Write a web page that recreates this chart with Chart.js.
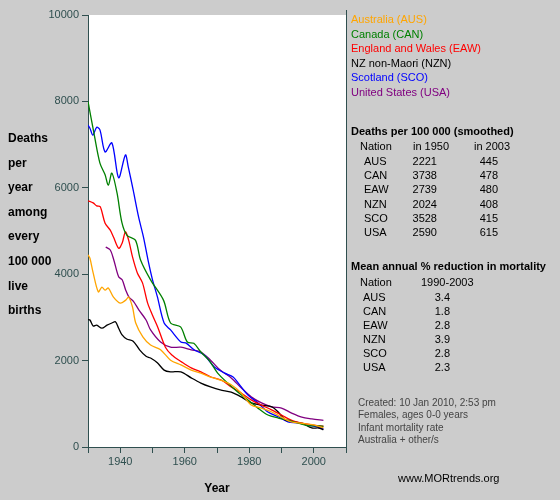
<!DOCTYPE html>
<html><head><meta charset="utf-8">
<script src="https://cdn.jsdelivr.net/npm/chart.js@4"></script>
<style>
body{margin:0;background:#cccccc;font-family:"Liberation Sans",Arial,sans-serif;}
#wrap{position:relative;width:560px;height:500px;}
canvas{position:absolute;left:0;top:0;}
.t{position:absolute;font-size:11px;white-space:nowrap;line-height:14px;}
.b{font-weight:bold;}
.r{text-align:right;}
.f{color:#444;font-size:10px;}
</style></head><body>
<div id="wrap"><canvas id="c" width="560" height="500"></canvas><div id="txt"></div></div>
<script>
const nations = ['AUS', 'CAN', 'EAW', 'NZN', 'SCO', 'USA'];
const legendNames = ['Australia (AUS)', 'Canada (CAN)', 'England and Wales (EAW)', 'NZ non-Maori (NZN)', 'Scotland (SCO)', 'United States (USA)'];
const colors = ['#ffa500', '#008000', '#ff0000', '#000000', '#0000ff', '#800080'];
const in1950 = ['2221', '3738', '2739', '2024', '3528', '2590'];
const in2003 = ['445', '478', '480', '408', '415', '615'];
const reduction = ['3.4', '1.8', '2.8', '3.9', '2.8', '2.3'];

const ausYears = [1930, 1930.6, 1931.6, 1933.2, 1934.3, 1935.3, 1936.3, 1937.9, 1940, 1941.7, 1942.6, 1943.8, 1944.8, 1947, 1949.4, 1952.5, 1955.6, 1958.8, 1962, 1965, 1968, 1971, 1974.4, 1977.5, 1980.6, 1983.8, 1987, 1990, 1993, 1996.3, 2000, 2003];
const ausVals = [4450, 4370, 4030, 3590, 3700, 3630, 3680, 3470, 3330, 3400, 3470, 3240, 2870, 2550, 2360, 2250, 2010, 1900, 1780, 1710, 1620, 1550, 1440, 1250, 970, 900, 810, 690, 580, 550, 510, 445];
const canYears = [1930, 1932, 1933.7, 1935.3, 1936.3, 1937.4, 1939, 1940.5, 1942.1, 1944.7, 1946.3, 1949.4, 1953.4, 1955.6, 1958.7, 1960.8, 1962.8, 1965, 1967.5, 1970.2, 1973.3, 1976.5, 1979.6, 1982.7, 1985.8, 1989, 1992, 1995.2, 1998.3, 2001.5, 2003];
const canVals = [8000, 7200, 6570, 6300, 6060, 6340, 5880, 5200, 4900, 4790, 4330, 3870, 3400, 2870, 2780, 2430, 2400, 2200, 2010, 1710, 1480, 1270, 1090, 900, 740, 670, 620, 550, 490, 490, 478];
const eawYears = [1930, 1931.6, 1932.7, 1933.8, 1935.3, 1936.9, 1937.9, 1939.5, 1940.6, 1941.6, 1942.6, 1943.8, 1945.3, 1946.9, 1948.5, 1950, 1951.6, 1954, 1956, 1959, 1962, 1965, 1968.1, 1971.3, 1974.4, 1977.5, 1980.6, 1983.8, 1986.9, 1990, 1993, 1996.3, 1999.4, 2003];
const eawVals = [5700, 5650, 5580, 5560, 5180, 5020, 4860, 4600, 4720, 4980, 4790, 4400, 4030, 3800, 3330, 3050, 2780, 2310, 2130, 1970, 1830, 1740, 1620, 1550, 1390, 1250, 1090, 970, 860, 740, 620, 550, 510, 480];
const nznYears = [1930, 1930.6, 1931.6, 1932.7, 1934.3, 1935.9, 1937.4, 1938.5, 1939.5, 1940.5, 1942, 1944, 1946, 1948, 1949.4, 1951.5, 1953.6, 1955.6, 1958.8, 1962, 1965, 1968, 1971, 1974.4, 1977.5, 1980.6, 1983.8, 1987, 1989, 1991.2, 1993, 1996.3, 1999.4, 2001.5, 2003];
const nznVals = [2950, 2940, 2800, 2820, 2750, 2820, 2870, 2900, 2750, 2600, 2500, 2450, 2250, 2100, 2060, 1950, 1780, 1740, 1740, 1600, 1480, 1390, 1320, 1270, 1160, 1020, 970, 930, 810, 620, 600, 550, 440, 440, 400];
const scoYears = [1930, 1930.6, 1931.5, 1932.7, 1933.7, 1935.3, 1937.4, 1939.5, 1941.6, 1942.5, 1944, 1945.7, 1947.2, 1948.8, 1950, 1951.5, 1953.6, 1955.6, 1958.8, 1960.3, 1962.9, 1966, 1969.2, 1972.4, 1975, 1976.6, 1979.6, 1982.7, 1985.8, 1989, 1992, 1995, 1998.3, 2001.5, 2003];
const scoVals = [7450, 7380, 7220, 7400, 7340, 6830, 7040, 6230, 6760, 6480, 5950, 5320, 4860, 4260, 3870, 3480, 2870, 2710, 2430, 2410, 2250, 2130, 1850, 1710, 1620, 1480, 1200, 1020, 810, 700, 580, 560, 510, 460, 415];
const usaYears = [1935.5, 1936.9, 1938, 1939.5, 1940.6, 1941.7, 1942.7, 1944.2, 1945.8, 1948, 1949.4, 1952.5, 1955.6, 1958.8, 1962, 1965, 1968, 1971, 1974.4, 1977.5, 1980.6, 1983.8, 1987, 1990, 1993, 1996.3, 1999.4, 2003];
const usaVals = [4630, 4560, 4330, 3940, 3870, 3630, 3470, 3360, 3170, 2940, 2710, 2430, 2310, 2310, 2250, 2200, 2010, 1780, 1600, 1370, 1160, 1020, 930, 900, 790, 690, 650, 615];
const xTicks = [1930, 1940, 1950, 1960, 1970, 1980, 1990, 2000, 2010];
const xLabels = [1940, 1960, 1980, 2000];

const seriesYears = [ausYears, canYears, eawYears, nznYears, scoYears, usaYears];
const seriesVals = [ausVals, canVals, eawVals, nznVals, scoVals, usaVals];
const axisColor = '#2f4f4f';

const datasets = nations.map((n, i) => ({
    label: n,
    data: seriesYears[i].map((y, j) => ({ x: y, y: seriesVals[i][j] })),
    borderColor: colors[i],
    borderWidth: 1.3,
    pointRadius: 0,
    tension: 0.3,
    fill: false
}));

const plotBg = {
    id: 'plotBg',
    beforeDraw(chart) {
        const { ctx, chartArea: a } = chart;
        ctx.save();
        ctx.fillStyle = '#ffffff';
        ctx.fillRect(a.left, a.top, a.right - a.left, a.bottom - a.top);
        ctx.strokeStyle = axisColor;
        ctx.lineWidth = 1;
        ctx.beginPath();
        ctx.moveTo(a.right + 0.5, a.top - 5);
        ctx.lineTo(a.right + 0.5, a.bottom + 5);
        ctx.stroke();
        ctx.restore();
    }
};

new Chart(document.getElementById('c'), {
    type: 'line',
    data: { datasets },
    options: {
        responsive: false,
        animation: false,
        layout: { padding: { left: 30, right: 214, top: 15, bottom: 0 } },
        plugins: { legend: { display: false }, tooltip: { enabled: false } },
        scales: {
            x: {
                type: 'linear', min: 1930, max: 2010,
                afterBuildTicks: s => { s.ticks = xTicks.map(v => ({ value: v })); },
                afterFit: s => { s.height = 53; },
                grid: { display: true, drawOnChartArea: false, drawTicks: true, tickLength: 6, tickColor: axisColor },
                border: { color: axisColor, width: 1 },
                ticks: { color: axisColor, font: { family: 'Liberation Sans', size: 11 }, maxRotation: 0, padding: 2,
                    callback: v => xLabels.includes(v) ? String(v) : '' },
                title: { display: true, text: 'Year', color: '#000', font: { family: 'Liberation Sans', size: 12, weight: 'bold' }, padding: { top: 4 } }
            },
            y: {
                min: 0, max: 10000,
                afterFit: s => { s.width = 58; },
                ticks: { stepSize: 2000, color: axisColor, font: { family: 'Liberation Sans', size: 11 }, callback: v => String(v) },
                grid: { display: true, drawOnChartArea: false, drawTicks: true, tickLength: 6, tickColor: axisColor },
                border: { color: axisColor, width: 1 }
            }
        }
    },
    plugins: [plotBg]
});

// side texts
const txt = document.getElementById('txt');
function put(html, x, y, cls, style) {
    const d = document.createElement('div');
    d.className = 't ' + (cls || '');
    d.style.left = x + 'px';
    d.style.top = (y - 7) + 'px';
    if (style) d.style.cssText += style;
    d.innerHTML = html;
    txt.appendChild(d);
}
['Deaths', 'per', 'year', 'among', 'every', '100 000', 'live', 'births'].forEach((w, i) => put(w, 8, 138 + i * 24.6, 'b', 'font-size:12px'));
legendNames.forEach((n, i) => put(n, 351, 19 + i * 14.6, '', 'color:' + colors[i]));
put('Deaths per 100 000 (smoothed)', 351, 131, 'b');
put('Nation', 360, 146);
put('in 1950', 413, 146);
put('in 2003', 474, 146);
nations.forEach((n, i) => {
    const y = 161 + i * 14.2;
    put(n, 364, y);
    put(in1950[i], 400, y, 'r', 'width:37px');
    put(in2003[i], 460, y, 'r', 'width:38px');
});
put('Mean annual % reduction in mortality', 351, 266, 'b');
put('Nation', 360, 282);
put('1990-2003', 421, 282);
nations.forEach((n, i) => {
    const y = 297 + i * 14;
    put(n, 363, y);
    put(reduction[i], 430, y, 'r', 'width:20px');
});
['Created: 10 Jan 2010, 2:53 pm', 'Females, ages 0-0 years', 'Infant mortality rate', 'Australia + other/s'].forEach((s, i) => put(s, 358, 403 + i * 12.3, 'f'));
put('www.MORtrends.org', 398, 478);
</script>
</body></html>
